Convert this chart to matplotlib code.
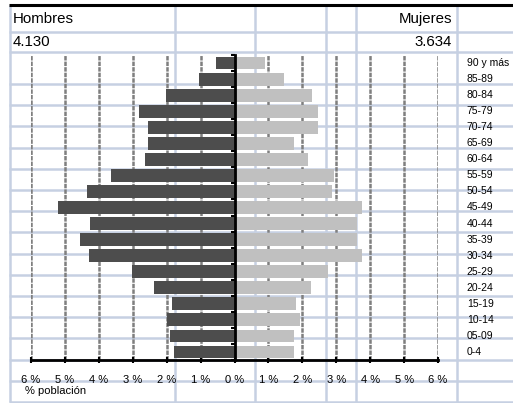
import matplotlib
matplotlib.use("Agg")
import matplotlib.pyplot as plt
import numpy as np

plt.rcParams["font.family"] = ["Liberation Sans", "DejaVu Sans"]
plt.rcParams["lines.scale_dashes"] = False

# age groups, bottom to top
ages = ["0-4", "05-09", "10-14", "15-19", "20-24", "25-29", "30-34", "35-39",
        "40-44", "45-49", "50-54", "55-59", "60-64", "65-69", "70-74",
        "75-79", "80-84", "85-89", "90 y más"]
# % of population
hombres = [1.78, 1.91, 1.98, 1.85, 2.38, 3.03, 4.28, 4.55, 4.25, 5.20,
           4.35, 3.65, 2.64, 2.56, 2.56, 2.81, 2.03, 1.06, 0.54]
mujeres = [1.76, 1.74, 1.94, 1.82, 2.26, 2.76, 3.76, 3.62, 3.62, 3.76,
           2.88, 2.94, 2.17, 1.76, 2.45, 2.45, 2.28, 1.45, 0.91]
total_h = "4.130"
total_m = "3.634"
xticks = list(range(-6, 7))
xlabels = [f"{abs(v)} %" for v in xticks]

W, H = 513, 403
fig = plt.figure(figsize=(W / 100, H / 100), dpi=100)

# spreadsheet cells behind the chart (pixel coords)
bg = fig.add_axes([0, 0, 1, 1])
bg.set_xlim(0, W)
bg.set_ylim(H, 0)
bg.axis("off")
cell = "#c6d0e2"
rows = [32, 52] + list(84 + 21.2 * np.arange(16))
for y in rows:
    bg.hlines(y, 9, W, color=cell, lw=1.8)
for x in [9.5, 175, 255, 326, 356, 457]:
    bg.vlines(x, 5, 402, color=cell, lw=1.8)
bg.hlines(5, 9, W, color="black", lw=2.2)

bg.text(13, 19, "Hombres", fontsize=10.8, va="center", ha="left")
bg.text(13, 42.5, total_h, fontsize=10.8, va="center", ha="left")
bg.text(452, 19, "Mujeres", fontsize=10.8, va="center", ha="right")
bg.text(452, 42.5, total_m, fontsize=10.8, va="center", ha="right")
bg.text(25, 391, "% población", fontsize=8, va="center", ha="left")

# pyramid
x0, x1, y0, y1 = 31, 438, 55, 360
ax = fig.add_axes([x0 / W, (H - y1) / H, (x1 - x0) / W, (y1 - y0) / H])
ax.set_facecolor("none")
pos = np.arange(len(ages))
for v in xticks:
    if v != 0:
        ax.axvline(v, color="#7f7f7f", lw=1.8, dashes=(3.2, 0.8), zorder=1)
ax.barh(pos, [-v for v in hombres], height=0.8, color="#4d4d4d", zorder=2)
ax.barh(pos, mujeres, height=0.8, color="#c0c0c0", zorder=2)
ax.set_xlim(-6, 6)
ax.set_ylim(-0.5, len(ages) - 0.5)

ax.spines["top"].set_visible(False)
ax.spines["right"].set_visible(False)
ax.spines["left"].set_position(("data", 0))
ax.spines["left"].set_linewidth(2)
ax.spines["bottom"].set_linewidth(2)
ax.spines["left"].set_zorder(3)

ax.set_yticks(np.arange(-0.5, len(ages), 1))
ax.tick_params(axis="y", direction="out", length=3, width=1.5,
               labelleft=False)
ax.set_xticks(xticks)
ax.set_xticklabels(xlabels, fontsize=8)
ax.tick_params(axis="x", direction="inout", length=4, width=1.5, pad=9)

for p, lab in zip(pos, ages):
    ax.text(1.071, p, lab, transform=ax.get_yaxis_transform(),
            fontsize=7.5, va="center", ha="left", clip_on=False)

fig.savefig("out.png", dpi=100)
